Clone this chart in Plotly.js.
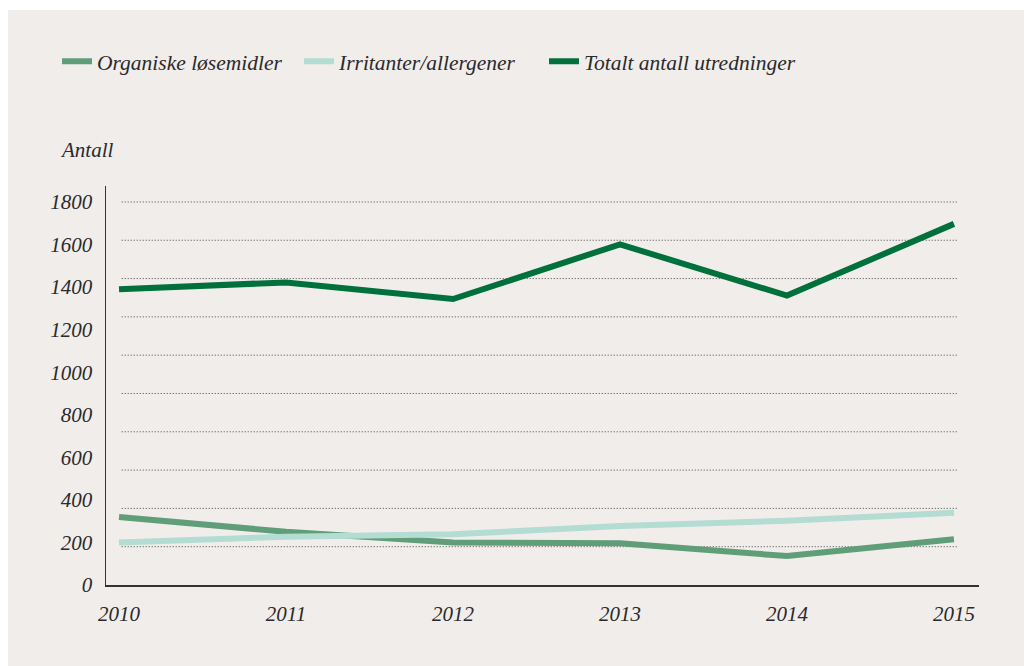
<!DOCTYPE html>
<html>
<head>
<meta charset="utf-8">
<script src="https://cdn.plot.ly/plotly-3.0.1.min.js"></script>
<style>
  html, body { margin: 0; padding: 0; background: #ffffff; }
  #chart { position: absolute; left: 8px; top: 10px; width: 1016px; height: 656px; }
</style>
</head>
<body>
<div id="chart"></div>
<script>
// Data
const years = [2010, 2011, 2012, 2013, 2014, 2015];
const organiske = [320, 250, 200, 196, 136, 215];
const irritanter = [200, 227, 238, 277, 302, 340];
const totalt = [1390, 1422, 1344, 1601, 1360, 1697];
const yTickVals = [0, 200, 400, 600, 800, 1000, 1200, 1400, 1600, 1800];
const gridVals = [180, 360, 540, 720, 900, 1080, 1260, 1440, 1620, 1800];
const seriesNames = ['Organiske løsemidler', 'Irritanter/allergener', 'Totalt antall utredninger'];

const fontFam = '"Liberation Serif", "DejaVu Serif", serif';
const txtColor = '#2a2a2a';

const traces = [
  { x: years, y: organiske, name: seriesNames[0], type: 'scatter', mode: 'lines',
    line: { color: '#5f9e79', width: 6 }, legend: 'legend' },
  { x: years, y: irritanter, name: seriesNames[1], type: 'scatter', mode: 'lines',
    line: { color: '#b3dcd3', width: 6 }, legend: 'legend2' },
  { x: years, y: totalt, name: seriesNames[2], type: 'scatter', mode: 'lines',
    line: { color: '#00703c', width: 6 }, legend: 'legend3' }
];

const shapes = gridVals.map(v => ({
  type: 'line', xref: 'paper', yref: 'y', x0: 0.018, x1: 0.976, y0: v, y1: v,
  line: { color: '#444444', width: 1, dash: '1px,2px' }, layer: 'below'
}));

function legendAt(px) {
  return {
    orientation: 'h', xref: 'container', yref: 'container',
    x: (px - 8) / 1016, y: 0.922, xanchor: 'left', yanchor: 'middle',
    font: { family: fontFam, size: 21.5, style: 'italic', color: txtColor },
    bgcolor: 'rgba(0,0,0,0)', borderwidth: 0
  };
}

const layout = {
  width: 1016, height: 656,
  paper_bgcolor: '#f1edeb', plot_bgcolor: '#f1edeb',
  margin: { l: 98, r: 45, t: 176, b: 81 },
  font: { family: fontFam, color: txtColor, size: 19 },
  showlegend: true,
  legend: legendAt(57),
  legend2: legendAt(299),
  legend3: legendAt(544),
  xaxis: {
    range: [2009.922, 2015.15], tickvals: years, ticktext: years.map(String),
    showgrid: false, zeroline: false, showline: true, linecolor: '#333333', linewidth: 1.5,
    ticks: '', ticklabelstandoff: 9,
    tickfont: { family: fontFam, size: 21, style: 'italic', color: txtColor },
    fixedrange: true
  },
  yaxis: {
    range: [0, 1875], tickvals: yTickVals, ticktext: yTickVals.map(String),
    showgrid: false, zeroline: false, showline: true, linecolor: '#333333', linewidth: 1.5,
    ticks: '', ticklabelstandoff: 8,
    tickfont: { family: fontFam, size: 21, style: 'italic', color: txtColor },
    fixedrange: true
  },
  shapes: shapes,
  annotations: [{
    text: 'Antall', xref: 'paper', yref: 'paper',
    x: (58 - 106) / 873, y: (585 - 150) / 399, xanchor: 'left', yanchor: 'middle',
    showarrow: false, font: { family: fontFam, size: 21, style: 'italic', color: txtColor }
  }]
};

Plotly.newPlot('chart', traces, layout, { displayModeBar: false, staticPlot: true });
</script>
</body>
</html>
